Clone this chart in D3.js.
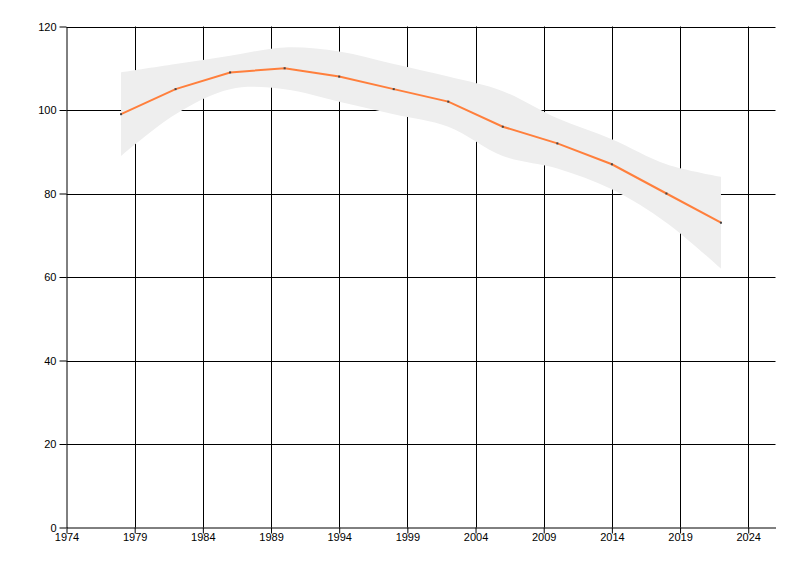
<!DOCTYPE html>
<html><head><meta charset="utf-8">
<script src="https://cdn.jsdelivr.net/npm/d3@7"></script>
<style>body{margin:0;background:#fff}svg{display:block}text{font-family:"Liberation Sans",Arial,sans-serif;font-size:11px;fill:#000}</style>
</head><body>
<svg id="c" width="800" height="576"></svg>
<script>
const years = [1978,1982,1986,1990,1994,1998,2002,2006,2010,2014,2018,2022];
const values = [99,105,109,110,108,105,102,96,92,87,80,73];
const upper = [109,111,113,115,114,111,108,104.5,98,93,87,84];
const lower = [89,99,105,105,102,99,96,89,86,81,73,62];
const xTicks = [1974,1979,1984,1989,1994,1999,2004,2009,2014,2019,2024];
const yTicks = [0,20,40,60,80,100,120];

const svg = d3.select("#c");
const L=66.5, R=775.5, T=26.5, B=527.5;
const x = d3.scaleLinear().domain([1974,2026]).range([L,R]);
const y = d3.scaleLinear().domain([0,120]).range([B,T]);
const data = years.map((d,i)=>({x:d,v:values[i],u:upper[i],l:lower[i]}));

// grid
const g = svg.append("g");
g.selectAll(".vg").data(xTicks.slice(1)).enter().append("line")
 .attr("x1",d=>Math.round(x(d))+0.5).attr("x2",d=>Math.round(x(d))+0.5).attr("y1",T).attr("y2",B)
 .attr("stroke","#000").attr("stroke-width",1);
g.selectAll(".hg").data(yTicks.slice(1)).enter().append("line")
 .attr("y1",d=>Math.round(y(d))+0.5).attr("y2",d=>Math.round(y(d))+0.5).attr("x1",L).attr("x2",R)
 .attr("stroke","#000").attr("stroke-width",1);

// band
svg.append("path").datum(data)
 .attr("d", d3.area().x(d=>x(d.x)).y0(d=>y(d.l)).y1(d=>y(d.u)).curve(d3.curveCatmullRom.alpha(0.5)))
 .attr("fill","#eeeeee");

// axes
const xa = svg.append("g").attr("transform",`translate(0,${B})`)
 .call(d3.axisBottom(x).tickValues(xTicks).tickFormat(d3.format("d")).tickSize(6).tickSizeOuter(0));
const ya = svg.append("g").attr("transform",`translate(${L},0)`)
 .call(d3.axisLeft(y).tickValues(yTicks).tickSize(7).tickSizeOuter(0));
[xa,ya].forEach(a=>{a.select(".domain").attr("stroke","#000");a.selectAll(".tick line").attr("stroke","#000");
 a.selectAll("text").attr("fill","#000").style("font-size","11px").style("font-family",'"Liberation Sans",Arial,sans-serif');});
xa.selectAll("text").attr("dy","0.55em").attr("y",7);
ya.selectAll("text").attr("x",-10);

// line
svg.append("path").datum(data)
 .attr("d", d3.line().x(d=>x(d.x)).y(d=>y(d.v)))
 .attr("fill","none").attr("stroke","#ff7f3c").attr("stroke-width",2);

// markers
svg.selectAll(".m").data(data).enter().append("rect")
 .attr("x",d=>x(d.x)-1).attr("y",d=>y(d.v)-1).attr("width",2).attr("height",2).attr("fill","#444");
</script>
</body></html>
